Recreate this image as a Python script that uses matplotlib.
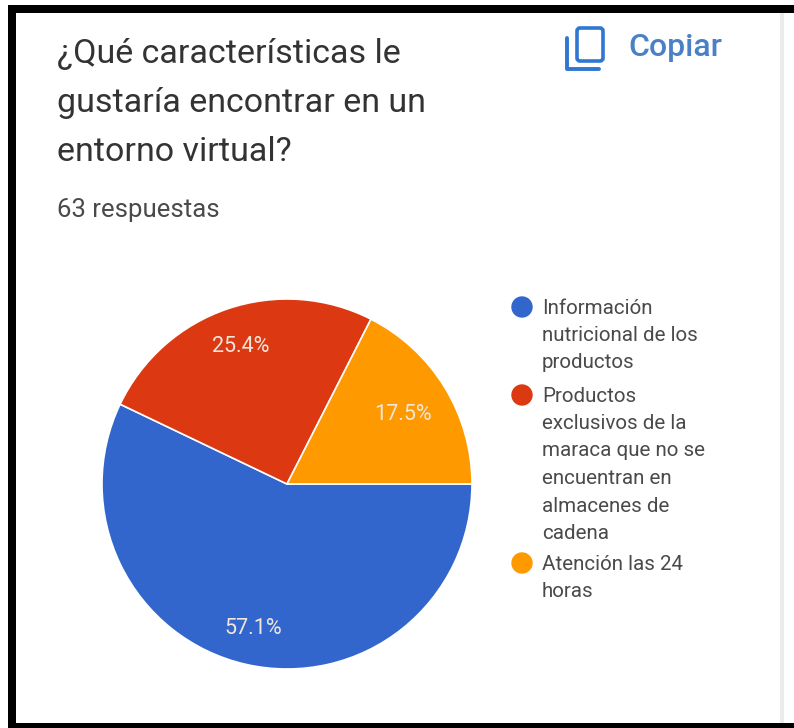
import matplotlib
matplotlib.use('Agg')
import matplotlib.pyplot as plt
from matplotlib.patches import Rectangle, Circle, FancyBboxPatch

title_lines = ['¿Qué características le', 'gustaría encontrar en un', 'entorno virtual?']
subtitle = '63 respuestas'
copy_label = 'Copiar'
values = [57.1, 25.4, 17.5]
colors = ['#3366CC', '#DC3912', '#FF9900']
pct_labels = ['57.1%', '25.4%', '17.5%']
legend_lines = [
    ['Información', 'nutricional de los', 'productos'],
    ['Productos', 'exclusivos de la', 'maraca que no se', 'encuentran en', 'almacenes de', 'cadena'],
    ['Atención las 24', 'horas'],
]

W, H = 794, 728
plt.rcParams['font.family'] = ['Roboto', 'DejaVu Sans']
fig = plt.figure(figsize=(W / 100, H / 100), dpi=100)
ax = fig.add_axes([0, 0, 1, 1])
ax.set_xlim(0, W)
ax.set_ylim(H, 0)
ax.axis('off')
ax.set_zorder(2)

# black bars on the top, left and bottom, open on the right
for x, y, w, h in [(8, 5, W - 8, 8), (8, 5, 8, H - 5), (8, 723, W - 8, 5)]:
    ax.add_patch(Rectangle((x, y), w, h, fc='black', ec='none'))
ax.add_patch(Rectangle((780, 13), 4, 710, fc='#EBEBEB', ec='none'))

for i, line in enumerate(title_lines):
    ax.text(57, 54 + i * 49, line, fontsize=24.5, color='#333333', va='center')
ax.text(57, 210, subtitle, fontsize=18.5, color='#4A4A4A', va='center')

# copy icon
ax.add_patch(FancyBboxPatch((577, 28), 26, 33, boxstyle='round,pad=0,rounding_size=3',
                            fill=False, ec='#2F77D0', lw=2.6))
ax.plot([567, 567, 599], [38, 69, 69], color='#2F77D0', lw=2.8, solid_capstyle='round',
        solid_joinstyle='round')
ax.text(628, 47, copy_label, fontsize=23, color='#4A80C8', va='center', fontweight='medium')

# the pie, clockwise from the east so the blue slice sits at the bottom
cx, cy, r = 287, 484, 185
pie_ax = fig.add_axes([(cx - r) / W, 1 - (cy + r) / H, 2 * r / W, 2 * r / H])
pie_ax.pie(values, colors=colors, startangle=0, counterclock=False,
           radius=1, wedgeprops={'edgecolor': 'white', 'linewidth': 1.2})
pie_ax.set_xlim(-1, 1)
pie_ax.set_ylim(-1, 1)
pie_ax.set_aspect('equal')

pct_pos = [(253, 628), (241, 347), (403, 415)]
for (x, y), label in zip(pct_pos, pct_labels):
    ax.text(x, y, label, color='#EFE6DC', fontsize=15.5, ha='center', va='center', zorder=5)

# legend
legend_y = [307, 395, 563]
line_h = 27.5
for color, lines, y0 in zip(colors, legend_lines, legend_y):
    ax.add_patch(Circle((522, y0), 10, color=color))
    for j, line in enumerate(lines):
        ax.text(542, y0 + 1 + j * line_h, line, fontsize=14.8, color='#4A4A4A', va='center')

fig.savefig('out.png', dpi=100)
